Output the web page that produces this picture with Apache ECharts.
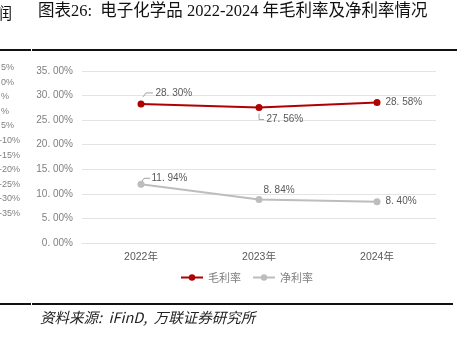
<!DOCTYPE html>
<html>
<head>
<meta charset="utf-8">
<script src="https://cdn.jsdelivr.net/npm/echarts@6/dist/echarts.min.js"></script>
<style>
html,body{margin:0;padding:0;background:#fff;}
#c{width:457px;height:337px;}
</style>
</head>
<body>
<div id="c"></div>
<script>
// ---- data ----
var categories = ['2022年', '2023年', '2024年'];
var grossMargin = [28.30, 27.56, 28.58];
var netMargin = [11.94, 8.84, 8.40];
var seriesNames = ['毛利率', '净利率'];
var yTicks = [0, 5, 10, 15, 20, 25, 30, 35];
var leftFragmentLabels = ['5%', '0%', '%', '%', '5%', '-10%', '-15%', '-20%', '-25%', '-30%', '-35%'];
var titleText = '图表26:  电子化学品 2022-2024 年毛利率及净利率情况';
var sourceText = '资料来源:  iFinD,  万联证券研究所';

// ---- label placement (style, not data) ----
var redLabelOffsets = [[6, -11], [-1, 12], [0, 0]];
var grayLabelOffsets = [[2, -6], [-4, -9], [0, 0]];
// leader polylines relative to the data point (pixels)
var redLeaders = [[[2, -7], [5, -11], [12, -11]], [[0, 6], [0, 12], [5, 12]], null];
var grayLeaders = [[[1, -3], [3, -6], [9, -6]], null, null];

function fmt(v) {
  var s = v.toFixed(2).split('.');
  return s[0] + '. ' + s[1] + '%';
}

function buildData(values, offsets) {
  return values.map(function (v, i) {
    return { value: v, label: { offset: offsets[i] } };
  });
}

function buildLeaderData(values, leaders) {
  var out = [];
  values.forEach(function (v, i) {
    if (leaders[i]) out.push([i, v, i]);
  });
  return out;
}

var chart = echarts.init(document.getElementById('c'), null, { renderer: 'canvas' });

var labelFont = 'Liberation Sans, Noto Sans CJK SC, sans-serif';
var cjkFont = 'Noto Sans CJK SC, sans-serif';
var red = '#B00000';
var gray = '#BDBDBD';

function leaderSeries(values, leaders) {
  return {
    type: 'custom',
    silent: true,
    legendHoverLink: false,
    data: buildLeaderData(values, leaders),
    renderItem: function (params, api) {
      var p = api.coord([api.value(0), api.value(1)]);
      var pts = leaders[api.value(2)].map(function (d) { return [p[0] + d[0], p[1] + d[1]]; });
      return {
        type: 'polyline',
        shape: { points: pts },
        style: { stroke: '#8c8c8c', lineWidth: 0.8, fill: null }
      };
    },
    z: 1
  };
}

var graphics = [
  { type: 'text', left: -4, top: 5, style: { text: '润', font: '16px ' + cjkFont, fill: '#111' } },
  { type: 'text', left: 38, top: 3, style: { text: titleText, font: '16.5px Liberation Serif, Noto Sans CJK SC, serif', fill: '#111' } },
  { type: 'rect', shape: { x: 0, y: 49, width: 31, height: 2 }, style: { fill: '#111' } },
  { type: 'rect', shape: { x: 32, y: 49, width: 425, height: 2 }, style: { fill: '#111' } },
  { type: 'rect', shape: { x: 0, y: 303, width: 31, height: 2 }, style: { fill: '#111' } },
  { type: 'rect', shape: { x: 32, y: 303, width: 421, height: 2 }, style: { fill: '#111' } },
  { type: 'text', left: 40, top: 310, style: { text: sourceText, font: 'italic 14.5px Noto Sans CJK SC, serif', fill: '#222' } }
];
leftFragmentLabels.forEach(function (t, i) {
  graphics.push({ type: 'text', x: (t.charAt(0) === '-' ? -1 : 1), y: 63 + i * 14.6, style: { text: t, font: '9px ' + labelFont, fill: '#7f7f7f' } });
});

chart.setOption({
  animation: false,
  backgroundColor: '#fff',
  graphic: graphics,
  grid: { left: 82, right: 21, top: 71, bottom: 94 },
  legend: {
    data: seriesNames,
    left: 175,
    top: 267,
    itemWidth: 22,
    itemHeight: 8,
    itemGap: 11,
    textStyle: { fontSize: 11, color: '#7f7f7f', fontFamily: cjkFont }
  },
  xAxis: {
    type: 'category',
    data: categories,
    boundaryGap: true,
    axisLine: { lineStyle: { color: '#e3e3e3', width: 1 } },
    axisTick: { show: false },
    axisLabel: { color: '#595959', fontSize: 10.5, margin: 9, fontFamily: labelFont }
  },
  yAxis: {
    type: 'value',
    min: yTicks[0],
    max: yTicks[yTicks.length - 1],
    interval: yTicks[1] - yTicks[0],
    axisLine: { show: false },
    axisTick: { show: false },
    splitLine: { lineStyle: { color: '#e3e3e3', width: 1 } },
    axisLabel: { color: '#7f7f7f', fontSize: 10, margin: 9, fontFamily: labelFont, formatter: function (v) { return fmt(v); } }
  },
  series: [
    {
      name: seriesNames[0],
      type: 'line',
      data: buildData(grossMargin, redLabelOffsets),
      symbol: 'circle',
      symbolSize: 7,
      lineStyle: { color: red, width: 2 },
      itemStyle: { color: red },
      label: { show: true, position: 'right', distance: 5, color: '#595959', fontSize: 10, fontFamily: labelFont, formatter: function (p) { return fmt(p.value); } },
      z: 3
    },
    {
      name: seriesNames[1],
      type: 'line',
      data: buildData(netMargin, grayLabelOffsets),
      symbol: 'circle',
      symbolSize: 7,
      lineStyle: { color: gray, width: 2 },
      itemStyle: { color: gray },
      label: { show: true, position: 'right', distance: 5, color: '#595959', fontSize: 10, fontFamily: labelFont, formatter: function (p) { return fmt(p.value); } },
      z: 3
    },
    leaderSeries(grossMargin, redLeaders),
    leaderSeries(netMargin, grayLeaders)
  ]
});
</script>
</body>
</html>
